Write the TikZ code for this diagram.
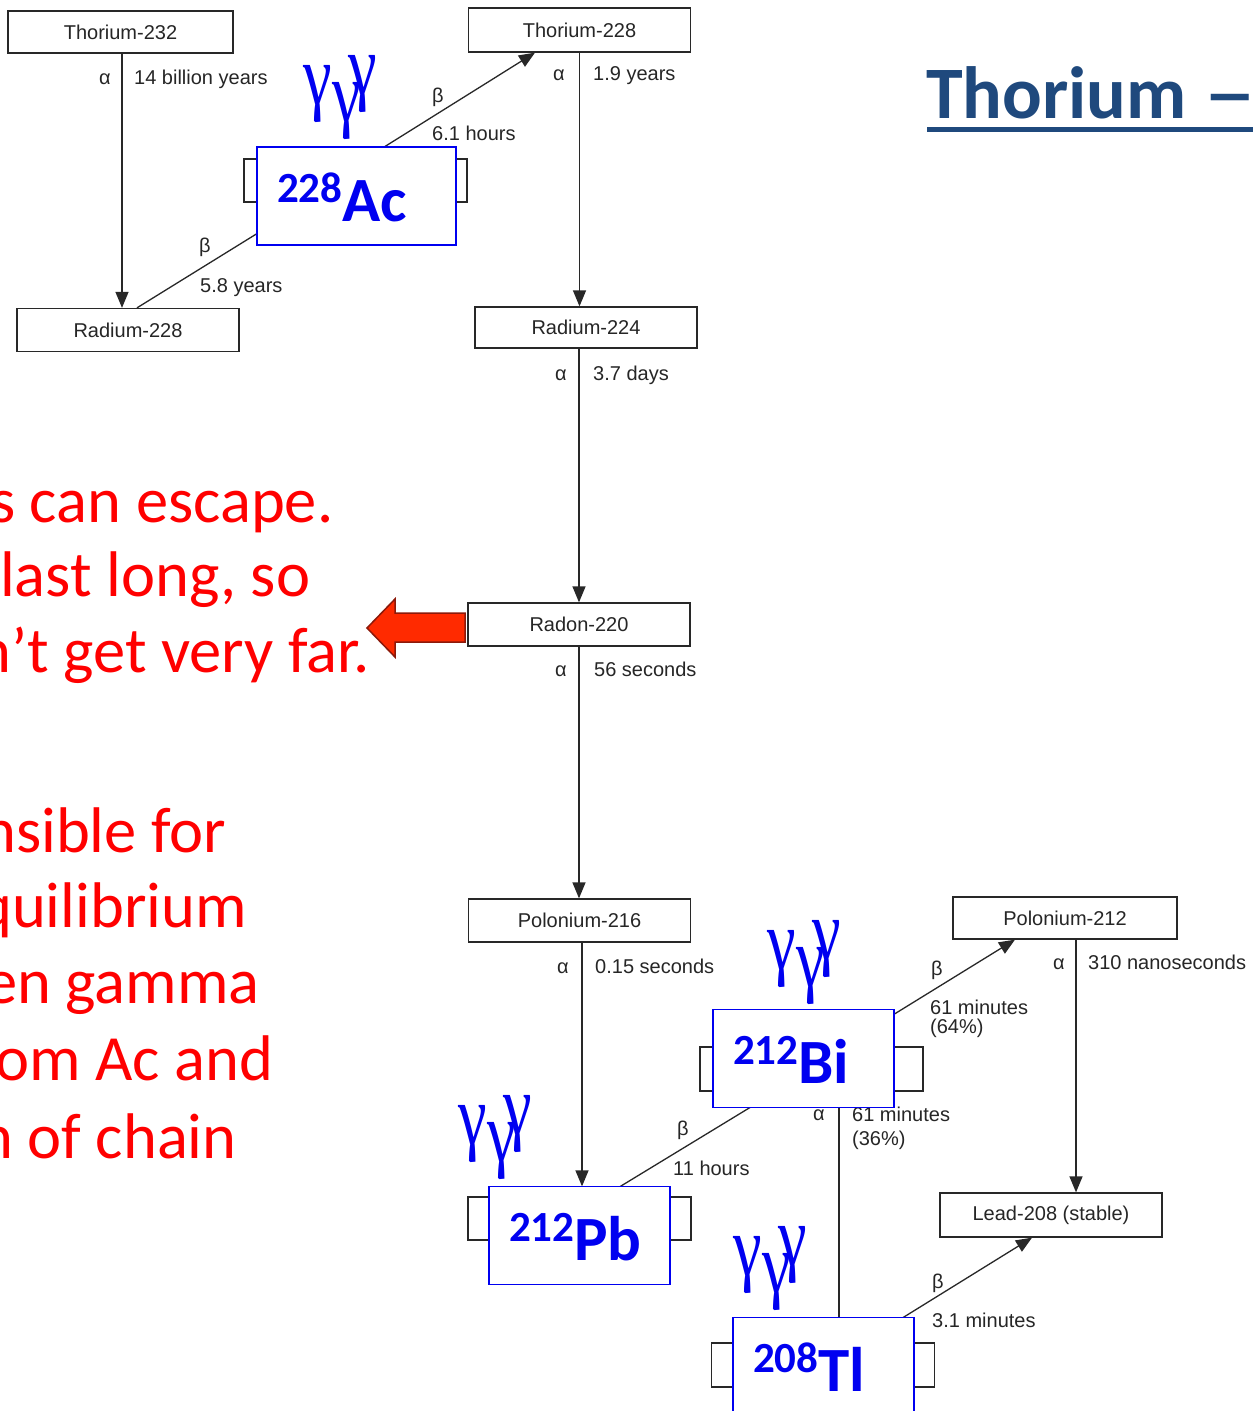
\documentclass[tikz,border=0pt]{standalone}
\usepackage{fontspec}
\setmainfont{Liberation Sans}
\newfontfamily\carl{Carlito}
\newfontfamily\gserif{Liberation Serif}
\usetikzlibrary{arrows.meta}
\definecolor{titleblue}{RGB}{31,73,125}
\definecolor{arrowfill}{RGB}{255,42,0}
\definecolor{arrowline}{RGB}{140,25,10}
\definecolor{nucblue}{RGB}{0,0,240}
\definecolor{linegray}{RGB}{40,40,40}
\newcommand\nucl[2]{\raisebox{19pt}{\fontsize{43}{43}\selectfont #1}#2}
\newcommand\onegam{\scalebox{0.85}[1.12]{γ}}
\newcommand\gams{\onegam\kern1pt\raisebox{-17pt}{\onegam}\kern-13pt\raisebox{10pt}{\onegam}}
\begin{document}
\begin{tikzpicture}[x=1pt,y=-1pt,
 box/.style={draw=linegray, line width=1.3pt, inner sep=0pt, minimum width=222pt, minimum height=43pt, font=\fontsize{20}{20}\selectfont, text=black!85},
 backbox/.style={draw=linegray, line width=1.3pt, inner sep=0pt, minimum width=223pt, minimum height=43pt},
 nuc/.style={draw=nucblue, line width=1.5pt, fill=white, inner xsep=20pt, inner ysep=0pt, text width=141pt, align=left, text height=74pt, text depth=24pt, text=nucblue, font=\carl\bfseries\fontsize{63}{63}\selectfont},
 lbl/.style={anchor=base west, inner sep=0pt, font=\fontsize{20}{20}\selectfont, text=black!85},
 lblr/.style={anchor=base east, inner sep=0pt, font=\fontsize{20}{20}\selectfont, text=black!85},
 arr/.style={draw=linegray, line width=1.3pt, -{Triangle[length=16pt,width=13pt]}},
 redtxt/.style={anchor=base west, inner sep=0pt, text=red, font=\carl\fontsize{64.5}{64.5}\selectfont},
 gam/.style={anchor=base west, inner sep=0pt, text=nucblue, font=\gserif\fontsize{76}{76}\selectfont},
]
\clip (0,0) rectangle (1253,1411);
\fill[white] (0,0) rectangle (1253,1411);

% title
\node[anchor=base west, inner sep=0pt, text=titleblue, font=\carl\bfseries\fontsize{74}{74}\selectfont] (title) at (926,118) {Thorium \scalebox{1.45}[1]{–}};
\draw[titleblue, line width=5pt] ([xshift=1pt,yshift=-11pt]title.base west) -- ++(330,0);

% red text
\node[redtxt] (r1) at (-10,522) {s can escape.};
\node[redtxt] (r2) at (0,596) {last long, so};
\node[redtxt] (r3) at (-23,672) {n’t get very far.};
\node[redtxt] (r4) at (-18,852) {nsible for};
\node[redtxt] (r5) at (-22,927) {quilibrium};
\node[redtxt] (r6) at (-15,1003) {en gamma};
\node[redtxt] (r7) at (-5,1080) {om Ac and};
\node[redtxt] (r8) at (-21,1158) {n of chain};

% plain boxes
\node[box, minimum width=225pt, minimum height=42pt] (th232) at (120.5,32) {Thorium-232};
\node[box] (ra228) at (128,330) {Radium-228};
\node[backbox] (acback) at (355.5,180.5) {};
\node[box, minimum height=44pt] (th228) at (579.5,30) {Thorium-228};
\node[box, minimum height=41pt] (ra224) at (586,327.5) {Radium-224};
\node[box] (rn220) at (579,624.5) {Radon-220};
\node[box] (po216) at (579.5,920.5) {Polonium-216};
\node[backbox] (pbback) at (579.5,1218.5) {};
\node[backbox, minimum height=44pt] (biback) at (811.5,1069) {};
\node[box, minimum width=224pt, minimum height=42pt] (po212) at (1065,918) {Polonium-212};
\node[box, minimum height=44pt] (pb208) at (1051,1215) {Lead-208 (stable)};
\node[backbox, minimum height=44pt] (tlback) at (823,1365) {};

% connectors
\draw[arr] ([xshift=1.5pt]th232.south) -- ([xshift=1.5pt]th232.south |- ra228.north);
\draw[arr] ([xshift=9pt]ra228.north) -- ([xshift=-48.5pt]acback.south);
\draw[arr] ([xshift=10.5pt]acback.north) -- ([xshift=-44.5pt]th228.south);
\draw[arr] (th228.south) -- (th228.south |- ra224.north);
\draw[arr] (rn220.north |- ra224.south) -- (rn220.north);
\draw[arr] (rn220.south) -- (rn220.south |- po216.north);
\draw[arr] ([xshift=2.5pt]po216.south) -- ([xshift=2.5pt,yshift=10pt]po216.south |- pbback.north);
\draw[arr] ([xshift=24.5pt]pbback.north) -- ([xshift=-35.5pt]biback.south);
\draw[arr] ([xshift=30.5pt]biback.north) -- ([xshift=-50pt]po212.south);
\draw[arr] ([xshift=27.5pt]biback.south) -- ([xshift=27.5pt]biback.south |- tlback.north);
\draw[arr] ([xshift=11pt]po212.south) -- ([xshift=11pt]po212.south |- pb208.north);
\draw[arr] ([xshift=40pt]tlback.north) -- ([xshift=-19pt]pb208.south);

% decay labels
\node[lblr] (a1) at (111,84) {α};
\node[lbl] (t1) at (134,84) {14 billion years};
\node[lbl] (b1) at (199,252) {β};
\node[lbl] (t2) at (200,292) {5.8 years};
\node[lbl] (b2) at (432,102) {β};
\node[lbl] (t3) at (432,140) {6.1 hours};
\node[lblr] (a2) at (565,80) {α};
\node[lbl] (t4) at (593,80) {1.9 years};
\node[lblr] (a3) at (567,380) {α};
\node[lbl] (t5) at (593,380) {3.7 days};
\node[lblr] (a4) at (567,676) {α};
\node[lbl] (t6) at (594,676) {56 seconds};
\node[lblr] (a5) at (569,973) {α};
\node[lbl] (t7) at (595,973) {0.15 seconds};
\node[lbl] (b3) at (677,1135) {β};
\node[lbl] (t8) at (673,1175) {11 hours};
\node[lbl] (b4) at (931,975) {β};
\node[lbl] (t9) at (930,1014) {61 minutes};
\node[lbl] (t9b) at (930,1033) {(64\%)};
\node[lblr] (a6) at (825,1120) {α};
\node[lbl] (t10) at (852,1121) {61 minutes};
\node[lbl] (t10b) at (852,1145) {(36\%)};
\node[lblr] (a7) at (1065,969) {α};
\node[lbl] (t11) at (1088,969) {310 nanoseconds};
\node[lbl] (b5) at (932,1288) {β};
\node[lbl] (t12) at (932,1327) {3.1 minutes};

% nuclide boxes
\node[nuc, text width=159pt] (ac) at (356.5,196) {\nucl{228}{Ac}};
\node[nuc] (bi) at (803.5,1058.5) {\nucl{212}{Bi}};
\node[nuc] (pb) at (579.5,1235.5) {\nucl{212}{Pb}};
\node[nuc] (tl) at (823.5,1366.5) {\nucl{208}{Tl}};

% gamma marks
\node[gam] (gac) at (303,104) {\gams};
\node[gam] (gbi) at (767,969) {\gams};
\node[gam] (gpb) at (458,1144) {\gams};
\node[gam] (gtl) at (733,1275) {\gams};

% red block arrow
\draw[draw=arrowline, line width=1.5pt, fill=arrowfill, line join=miter]
  (465,613) -- (395,613) -- (395,599) -- (367,628) -- (395,657) -- (395,642) -- (465,642) -- cycle;
\end{tikzpicture}
\end{document}
